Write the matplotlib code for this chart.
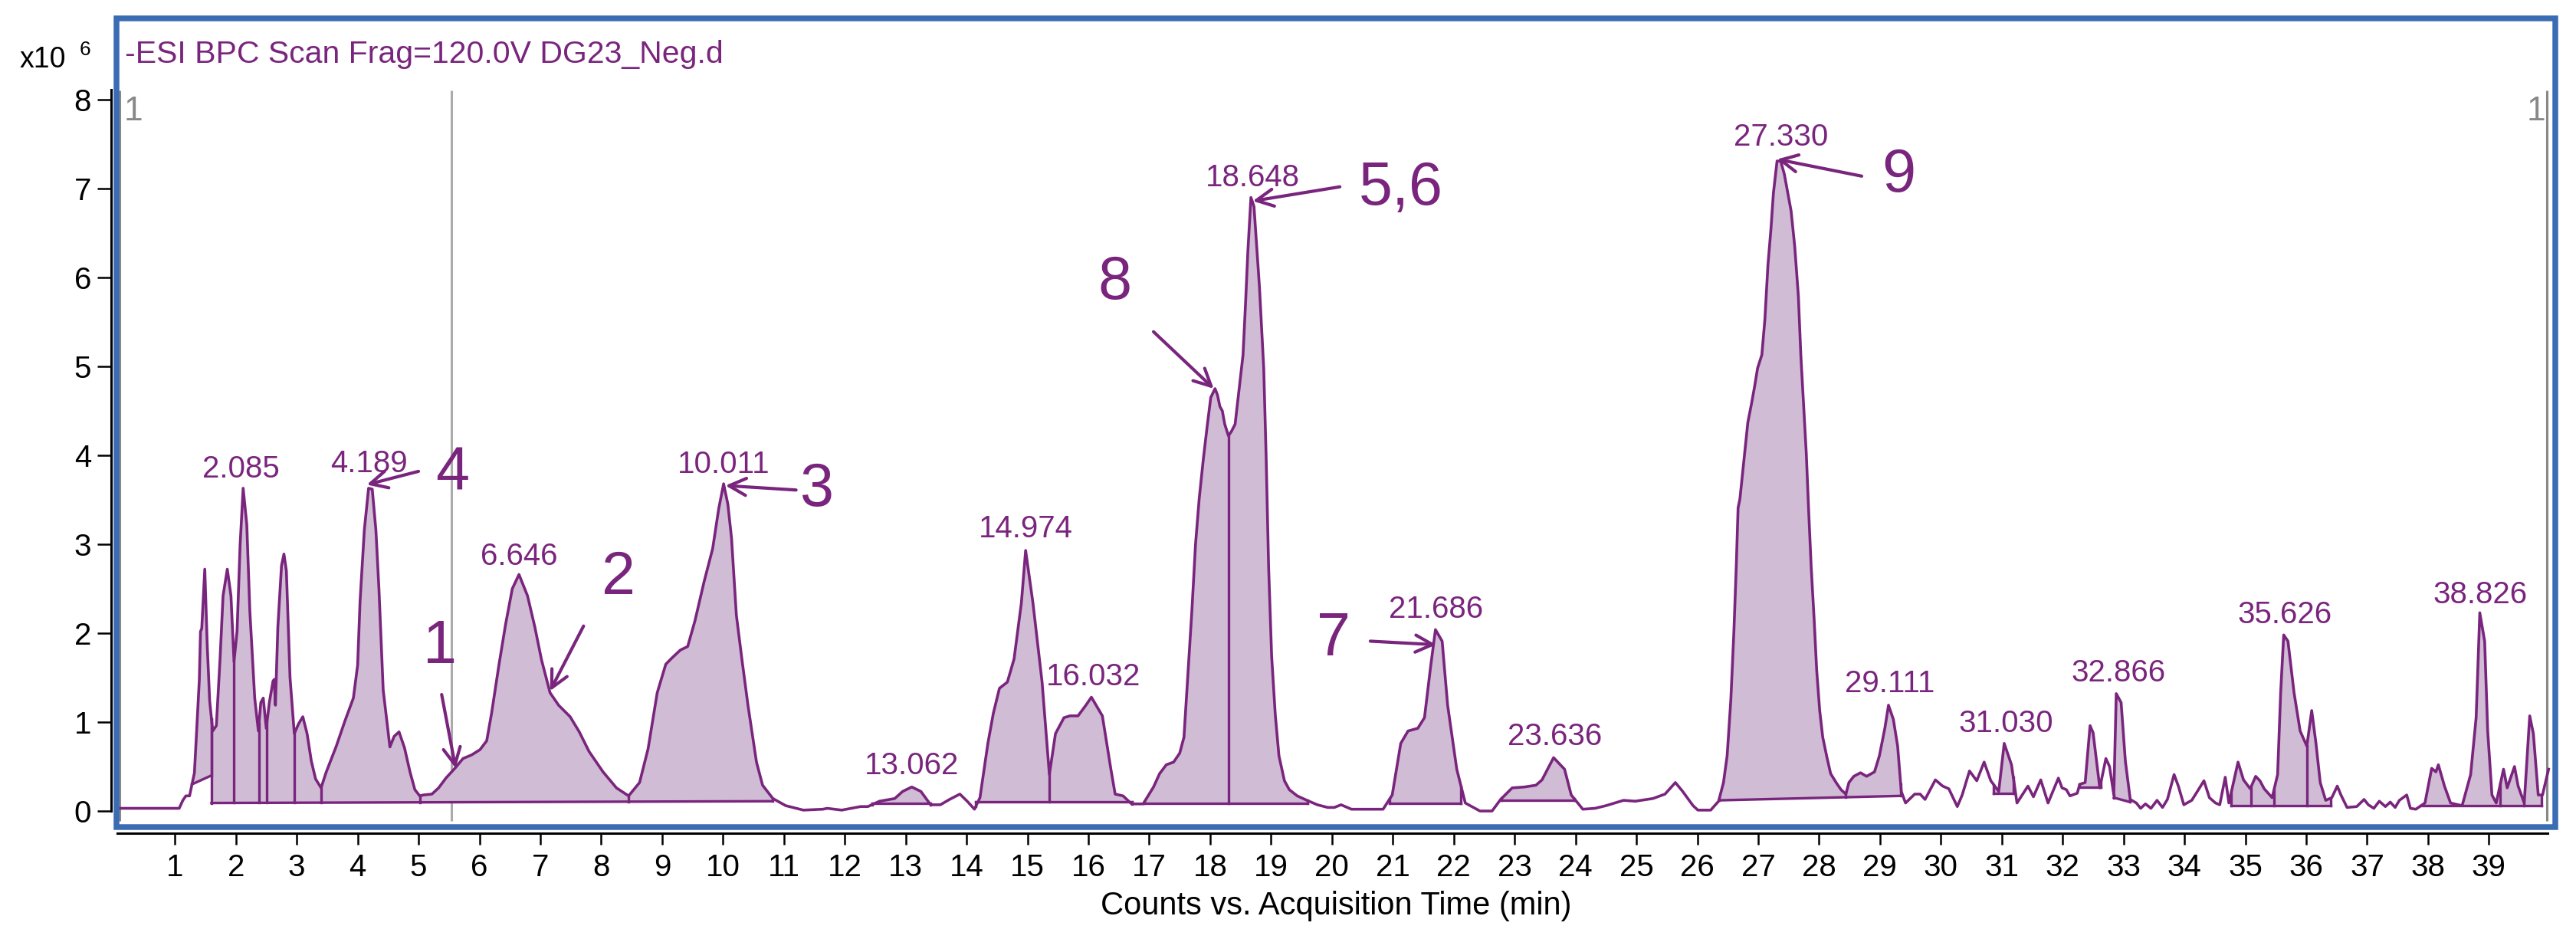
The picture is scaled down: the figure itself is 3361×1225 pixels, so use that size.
import numpy as np
import matplotlib
matplotlib.use('Agg')
import matplotlib.pyplot as plt
from matplotlib.patches import Rectangle

plt.rcParams['font.family'] = ['Liberation Sans', 'DejaVu Sans']

# BPC trace: acquisition time (min) and counts (x10^6)
time = [0.10, 1.07, 1.13, 1.18, 1.24, 1.32, 1.40, 1.42, 1.44, 1.49, 1.53, 1.57, 1.62, 1.68, 1.74,
        1.79, 1.86, 1.92, 1.97, 2.02, 2.07, 2.12, 2.18, 2.23, 2.31, 2.37, 2.41, 2.45, 2.50, 2.55,
        2.61, 2.63, 2.65, 2.69, 2.75, 2.79, 2.83, 2.89, 2.96, 3.03, 3.10, 3.17, 3.24, 3.31, 3.40,
        3.48, 3.65, 3.79, 3.93, 4.00, 4.04, 4.11, 4.18, 4.24, 4.30, 4.35, 4.42, 4.53, 4.60, 4.68,
        4.77, 4.86, 4.94, 5.02, 5.08, 5.22, 5.33, 5.45, 5.61, 5.73, 5.87, 6.01, 6.12, 6.20, 6.32,
        6.43, 6.54, 6.65, 6.79, 6.91, 7.02, 7.16, 7.30, 7.49, 7.64, 7.80, 8.03, 8.25, 8.45, 8.63,
        8.77, 8.92, 9.06, 9.16, 9.30, 9.42, 9.54, 9.69, 9.83, 9.93, 10.01, 10.08, 10.14, 10.22,
        10.31, 10.41, 10.55, 10.65, 10.82, 11.03, 11.32, 11.64, 11.71, 11.95, 12.26, 12.38, 12.57,
        12.82, 12.95, 13.10, 13.25, 13.41, 13.57, 13.72, 13.89, 14.01, 14.13, 14.22, 14.35, 14.44,
        14.54, 14.67, 14.78, 14.90, 14.97, 15.09, 15.24, 15.36, 15.46, 15.60, 15.70, 15.83, 15.96,
        16.05, 16.23, 16.37, 16.44, 16.57, 16.71, 16.90, 17.07, 17.17, 17.28, 17.40, 17.50, 17.57,
        17.63, 17.70, 17.76, 17.82, 17.89, 17.95, 18.01, 18.08, 18.12, 18.16, 18.20, 18.24, 18.30,
        18.35, 18.41, 18.48, 18.54, 18.58, 18.62, 18.67, 18.72, 18.81, 18.88, 18.92, 18.96, 19.01,
        19.07, 19.13, 19.22, 19.30, 19.43, 19.59, 19.76, 19.93, 20.04, 20.15, 20.32, 20.84, 20.99,
        21.13, 21.25, 21.41, 21.52, 21.62, 21.70, 21.81, 21.90, 22.05, 22.19, 22.43, 22.63, 22.77,
        22.96, 23.16, 23.35, 23.45, 23.64, 23.82, 23.93, 24.12, 24.32, 24.50, 24.79, 24.98, 25.27,
        25.47, 25.64, 25.76, 25.93, 26.01, 26.22, 26.35, 26.43, 26.49, 26.55, 26.60, 26.64, 26.67,
        26.70, 26.77, 26.83, 26.89, 26.94, 26.99, 27.06, 27.11, 27.16, 27.21, 27.25, 27.31, 27.37,
        27.43, 27.50, 27.54, 27.60, 27.66, 27.70, 27.75, 27.79, 27.83, 27.87, 27.92, 27.96, 28.01,
        28.06, 28.13, 28.19, 28.28, 28.36, 28.44, 28.49, 28.57, 28.68, 28.78, 28.91, 28.99, 29.08,
        29.14, 29.22, 29.29, 29.35, 29.42, 29.57, 29.66, 29.74, 29.81, 29.91, 30.03, 30.13, 30.27,
        30.35, 30.47, 30.59, 30.71, 30.82, 30.95, 31.04, 31.16, 31.25, 31.43, 31.52, 31.64, 31.76,
        31.93, 31.99, 32.06, 32.12, 32.24, 32.28, 32.37, 32.45, 32.50, 32.61, 32.71, 32.77, 32.84,
        32.88, 32.96, 33.03, 33.11, 33.21, 33.28, 33.36, 33.45, 33.55, 33.64, 33.72, 33.83, 33.90,
        33.99, 34.12, 34.23, 34.32, 34.41, 34.51, 34.58, 34.67, 34.73, 34.88, 34.97, 35.08, 35.17,
        35.24, 35.31, 35.44, 35.53, 35.58, 35.63, 35.70, 35.80, 35.90, 36.01, 36.09, 36.16, 36.23,
        36.32, 36.42, 36.51, 36.57, 36.67, 36.83, 36.95, 37.02, 37.11, 37.20, 37.30, 37.38, 37.46,
        37.53, 37.65, 37.71, 37.80, 37.95, 38.06, 38.13, 38.17, 38.27, 38.37, 38.56, 38.70, 38.79,
        38.85, 38.93, 38.98, 39.05, 39.12, 39.24, 39.30, 39.42, 39.48, 39.58, 39.67, 39.73, 39.81,
        39.88, 39.98]
counts = [0.03, 0.03, 0.12, 0.17, 0.17, 0.43, 1.47, 2.02, 2.05, 2.72, 1.87, 1.24, 0.90, 0.96, 1.70,
          2.42, 2.72, 2.42, 1.68, 2.02, 2.99, 3.63, 3.22, 2.25, 1.27, 0.90, 1.22, 1.27, 0.93, 1.22,
          1.46, 1.48, 1.19, 2.07, 2.76, 2.89, 2.70, 1.50, 0.87, 0.98, 1.06, 0.87, 0.56, 0.36, 0.26,
          0.43, 0.73, 1.01, 1.27, 1.64, 2.36, 3.16, 3.63, 3.62, 3.16, 2.50, 1.36, 0.72, 0.84, 0.89,
          0.71, 0.44, 0.24, 0.17, 0.18, 0.19, 0.26, 0.37, 0.49, 0.59, 0.63, 0.69, 0.79, 1.10, 1.64,
          2.10, 2.50, 2.66, 2.42, 2.07, 1.70, 1.33, 1.19, 1.06, 0.89, 0.67, 0.44, 0.26, 0.17, 0.32,
          0.70, 1.33, 1.65, 1.72, 1.81, 1.85, 2.14, 2.58, 2.95, 3.40, 3.68, 3.45, 3.07, 2.20,
          1.71, 1.19, 0.55, 0.29, 0.14, 0.06, 0.01, 0.02, 0.03, 0.01, 0.05, 0.05, 0.11,
          0.14, 0.22, 0.27, 0.22, 0.07, 0.07, 0.13, 0.19, 0.11, 0.02, 0.15, 0.76, 1.10,
          1.38, 1.45, 1.71, 2.34, 2.93, 2.34, 1.45, 0.41, 0.87, 1.05, 1.07, 1.07, 1.19,
          1.28, 1.07, 0.47, 0.19, 0.17, 0.08, 0.08, 0.27, 0.42, 0.52, 0.55, 0.65, 0.83,
          1.49, 2.25, 3.00, 3.51, 3.97, 4.32, 4.65, 4.75, 4.68, 4.55, 4.50, 4.35, 4.22,
          4.27, 4.35, 4.77, 5.13, 5.69, 6.30, 6.90, 6.80, 5.89, 4.98, 3.97, 2.75, 1.74,
          1.08, 0.62, 0.34, 0.24, 0.17, 0.12, 0.07, 0.04, 0.04, 0.07, 0.02, 0.02, 0.18,
          0.76, 0.90, 0.93, 1.05, 1.62, 2.04, 1.91, 1.19, 0.47, 0.09, 0.00, 0.00, 0.13,
          0.26, 0.27, 0.29, 0.35, 0.60, 0.47, 0.18, 0.02, 0.03, 0.06, 0.12, 0.11, 0.14,
          0.19, 0.32, 0.22, 0.06, 0.01, 0.01, 0.11, 0.32, 0.62, 1.24, 2.00, 2.75, 3.41,
          3.51, 3.97, 4.37, 4.58, 4.77, 4.98, 5.13, 5.53, 6.14, 6.55, 6.95, 7.31, 7.31,
          7.16, 6.90, 6.75, 6.35, 5.79, 5.13, 4.52, 4.02, 3.36, 2.75, 2.14, 1.59, 1.13,
          0.83, 0.60, 0.42, 0.32, 0.24, 0.19, 0.32, 0.39, 0.43, 0.39, 0.44, 0.62, 0.93,
          1.19, 1.03, 0.73, 0.22, 0.09, 0.19, 0.19, 0.13, 0.22, 0.35, 0.28, 0.25, 0.05,
          0.18, 0.45, 0.34, 0.55, 0.34, 0.22, 0.76, 0.52, 0.09, 0.28, 0.16, 0.35, 0.09,
          0.37, 0.26, 0.24, 0.17, 0.20, 0.30, 0.32, 0.96, 0.88, 0.26, 0.59, 0.50, 0.18,
          1.32, 1.22, 0.56, 0.13, 0.09, 0.03, 0.08, 0.03, 0.12, 0.04, 0.13, 0.41, 0.28,
          0.07, 0.12, 0.24, 0.34, 0.15, 0.09, 0.07, 0.38, 0.09, 0.55, 0.35, 0.25, 0.39,
          0.34, 0.25, 0.15, 0.41, 1.33, 1.98, 1.91, 1.33, 0.90, 0.73, 1.13, 0.76, 0.32,
          0.12, 0.15, 0.28, 0.18, 0.04, 0.05, 0.13, 0.07, 0.03, 0.11, 0.05, 0.10, 0.04,
          0.12, 0.18, 0.03, 0.02, 0.09, 0.48, 0.44, 0.52, 0.28, 0.09, 0.06, 0.41, 1.05,
          2.23, 1.91, 0.90, 0.18, 0.09, 0.47, 0.26, 0.50, 0.28, 0.09, 1.07, 0.87, 0.18,
          0.18, 0.47]

# integrated regions: start, end and baseline level at each end
seg_start = [1.28, 1.60, 12.45, 14.15, 16.92, 20.95, 22.79, 26.36, 30.87, 32.28, 32.84, 34.77, 37.88]
seg_end = [1.60, 10.82, 13.41, 16.72, 19.60, 22.12, 23.98, 29.34, 31.19, 32.63, 33.11, 36.40, 39.86]
base_start = [0.30, 0.09, 0.09, 0.10, 0.09, 0.09, 0.12, 0.12, 0.20, 0.27, 0.15, 0.06, 0.06]
base_end = [0.40, 0.11, 0.09, 0.10, 0.09, 0.09, 0.12, 0.17, 0.20, 0.27, 0.10, 0.06, 0.06]
drop_times = [1.97, 2.38, 2.51, 2.96, 3.40, 5.02, 8.45, 15.36, 18.30, 28.44,
              35.09, 35.47, 36.01, 38.56, 39.19, 39.58]

# retention time labels (centre x, baseline y)
rt_text = ['2.085', '4.189', '6.646', '10.011', '13.062', '14.974', '16.032', '18.648',
           '21.686', '23.636', '27.330', '29.111', '31.030', '32.866', '35.626', '38.826']
rt_x = [2.09, 4.19, 6.65, 10.01, 13.10, 14.97, 16.08, 18.70,
        21.71, 23.66, 27.38, 29.16, 31.07, 32.92, 35.65, 38.86]
rt_y = [3.75, 3.81, 2.77, 3.80, 0.41, 3.08, 1.41, 7.03,
        2.17, 0.74, 7.48, 1.34, 0.89, 1.46, 2.11, 2.34]

# compound numbers with arrows
cmp_text = ['1', '2', '3', '4', '5,6', '7', '8', '9']
cmp_x = [5.35, 8.29, 11.55, 5.55, 21.13, 20.03, 16.44, 29.31]
cmp_y = [1.66, 2.44, 3.43, 3.62, 6.82, 1.75, 5.76, 6.97]
tail_x = [5.38, 7.71, 11.20, 5.00, 20.13, 20.63, 17.07, 28.70]
tail_y = [1.31, 2.08, 3.61, 3.82, 7.02, 1.91, 5.39, 7.14]
tip_x = [5.61, 7.16, 10.04, 4.15, 18.70, 21.71, 18.06, 27.31]
tip_y = [0.48, 1.35, 3.66, 3.67, 6.86, 1.87, 4.75, 7.33]

purple = '#7A257D'
fill_col = '#D0BCD5'
blue = '#3A6CB4'

fig = plt.figure(figsize=(33.61, 12.25), dpi=100)
ax = fig.add_axes([0.04522, 0.11918, 0.94674, 0.86122])
ax.set_xlim(0.04, 40.09)
ax.set_ylim(-0.181, 8.914)

t_arr = np.array(time)
c_arr = np.array(counts)

for s, e, bs, be in zip(seg_start, seg_end, base_start, base_end):
    tt = np.concatenate(([s], t_arr[(t_arr > s) & (t_arr < e)], [e]))
    cc = np.interp(tt, t_arr, c_arr)
    bb = np.interp(tt, [s, e], [bs, be])
    ax.fill_between(tt, bb, np.maximum(cc, bb), color=fill_col, lw=0, zorder=1)
    ax.plot([s, e], [bs, be], color=purple, lw=2.4, zorder=2)
    for x in (s, e):
        b = np.interp(x, [s, e], [bs, be])
        ax.plot([x, x], [b, np.interp(x, t_arr, c_arr)], color=purple, lw=2.4, zorder=2)

for d in drop_times:
    for s, e, bs, be in zip(seg_start, seg_end, base_start, base_end):
        if s < d < e:
            b = np.interp(d, [s, e], [bs, be])
            ax.plot([d, d], [b, np.interp(d, t_arr, c_arr)], color=purple, lw=2.4, zorder=2)

ax.plot(time, counts, color=purple, lw=2.6, zorder=3)

# cursor and range markers
ax.vlines([0.09, 39.95], -0.11, 8.10, color='#888888', lw=2.2, zorder=0)
ax.vlines(5.54, -0.11, 8.10, color='#AAAAAA', lw=2.2, zorder=0)
ax.text(0.164, 7.77, '1', color='#888888', fontsize=32, ha='left', va='baseline')
ax.text(39.62, 7.77, '1', color='#888888', fontsize=32, ha='left', va='baseline')

for txt, x, y in zip(rt_text, rt_x, rt_y):
    ax.text(x, y, txt, color=purple, fontsize=29, ha='center', va='baseline', zorder=4)

for txt, x, y, tx, ty, px, py in zip(cmp_text, cmp_x, cmp_y, tail_x, tail_y, tip_x, tip_y):
    ax.text(x, y, txt, color=purple, fontsize=57, ha='center', va='baseline', zorder=4)
    ax.annotate('', xy=(px, py), xytext=(tx, ty),
                arrowprops=dict(arrowstyle='->', color=purple, lw=3, mutation_scale=40,
                                shrinkA=0, shrinkB=0), zorder=4)

ax.text(0.18, 8.41, '-ESI BPC Scan Frag=120.0V DG23_Neg.d', color=purple,
        fontsize=29.5, ha='left', va='baseline')
ax.text(-0.79, 8.36, 'x10', fontsize=27, ha='right', va='baseline', clip_on=False)
ax.text(-0.57, 8.50, '6', fontsize=19, ha='left', va='baseline', clip_on=False)

# axes styling
for side in ['top', 'right']:
    ax.spines[side].set_visible(False)
ax.spines['left'].set_position(('outward', 5))
ax.spines['bottom'].set_position(('outward', 5.8))
ax.spines['left'].set_bounds(0, 8.11)
ax.spines['bottom'].set_bounds(0.05, 39.96)
for side in ['left', 'bottom']:
    ax.spines[side].set_linewidth(2.2)
    ax.spines[side].set_color('black')

ax.set_xticks(range(1, 40))
ax.set_yticks(range(0, 9))
ax.tick_params(axis='x', direction='out', length=10.8, width=1.8, pad=8, labelsize=29)
ax.tick_params(axis='y', direction='out', length=13, width=1.8, pad=5.8, labelsize=29)

ax.set_xlabel('Counts vs. Acquisition Time (min)', fontsize=30)
ax.xaxis.label.set_va('baseline')
ax.xaxis.set_label_coords(0.5, -0.1081)

ax.add_patch(Rectangle((0, 0), 1, 1, transform=ax.transAxes, fill=False,
                       ec=blue, lw=5.4, clip_on=False, zorder=5))

fig.savefig('out.png', dpi=100)
